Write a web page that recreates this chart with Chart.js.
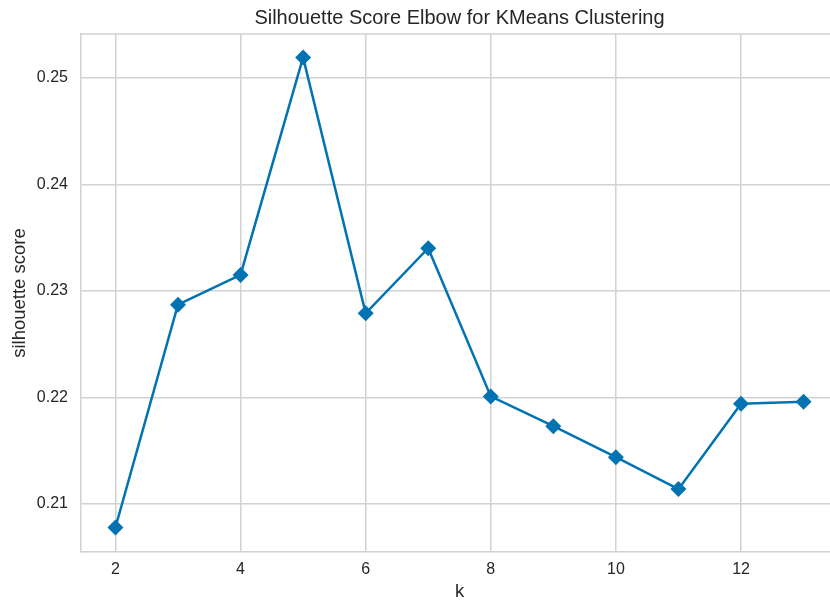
<!DOCTYPE html>
<html>
<head>
<meta charset="utf-8">
<script src="https://cdn.jsdelivr.net/npm/chart.js@4"></script>
<style>
html,body{margin:0;padding:0;background:#fff;overflow:hidden;width:830px;height:606px;}
#wrap{position:absolute;left:0;top:0;width:846px;height:606px;}
</style>
</head>
<body>
<div id="wrap"><canvas id="c" width="846" height="606"></canvas></div>
<script>
const kValues = [2, 3, 4, 5, 6, 7, 8, 9, 10, 11, 12, 13];
const silhouetteScores = [0.2078, 0.2287, 0.2315, 0.2519, 0.2279, 0.2340, 0.2201, 0.2173, 0.2144, 0.2114, 0.2194, 0.2196];
const xTicks = [2, 4, 6, 8, 10, 12];
const yTicks = [0.21, 0.22, 0.23, 0.24, 0.25];

const FONT = "'Liberation Sans', Arial, sans-serif";
const GRID = '#d2d2d2';

const frame = {
  id: 'frame',
  afterDraw(chart) {
    const {ctx, chartArea: a} = chart;
    ctx.save();
    ctx.strokeStyle = GRID;
    ctx.lineWidth = 1.5;
    ctx.beginPath();
    ctx.moveTo(a.left, a.top);
    ctx.lineTo(a.right, a.top);
    ctx.stroke();
    ctx.restore();
  }
};

new Chart(document.getElementById('c'), {
  type: 'line',
  data: {
    datasets: [{
      data: kValues.map((k, i) => ({x: k, y: silhouetteScores[i]})),
      borderColor: '#0173B2',
      backgroundColor: '#0173B2',
      borderWidth: 2.5,
      pointStyle: 'rectRot',
      pointRadius: 8,
      pointHoverRadius: 8,
      pointBorderWidth: 0,
      tension: 0
    }]
  },
  options: {
    responsive: false,
    animation: false,
    layout: {padding: {top: 0, right: 8, left: 0, bottom: 0}},
    plugins: {
      legend: {display: false},
      tooltip: {enabled: false},
      title: {
        display: true,
        fullSize: false,
        text: 'Silhouette Score Elbow for KMeans Clustering',
        color: '#262626',
        font: {family: FONT, size: 20, weight: 'normal', lineHeight: 1.2},
        padding: {top: 6, bottom: 4}
      }
    },
    scales: {
      x: {
        type: 'linear',
        min: 1.45,
        max: 13.55,
        afterBuildTicks(s) { s.ticks = xTicks.map(v => ({value: v})); },
        afterFit(s) { s.height = 54; },
        ticks: {
          color: '#262626',
          font: {family: FONT, size: 16},
          padding: 8,
          includeBounds: false
        },
        grid: {color: GRID, lineWidth: 1.5, drawTicks: false},
        border: {color: GRID, width: 1.5},
        title: {
          display: true,
          text: 'k',
          color: '#262626',
          font: {family: FONT, size: 18.5},
          padding: {top: 2, bottom: 3}
        }
      },
      y: {
        min: 0.2055,
        max: 0.2541,
        afterBuildTicks(s) { s.ticks = yTicks.map(v => ({value: v})); },
        afterFit(s) { s.width = 81; },
        ticks: {
          color: '#262626',
          font: {family: FONT, size: 16},
          padding: 13,
          includeBounds: false,
          callback: v => v.toFixed(2)
        },
        grid: {color: GRID, lineWidth: 1.5, drawTicks: false},
        border: {color: GRID, width: 1.5},
        title: {
          display: true,
          text: 'silhouette score',
          color: '#262626',
          font: {family: FONT, size: 18.5},
          padding: {top: 9, bottom: 4}
        }
      }
    }
  },
  plugins: [frame]
});
</script>
</body>
</html>
